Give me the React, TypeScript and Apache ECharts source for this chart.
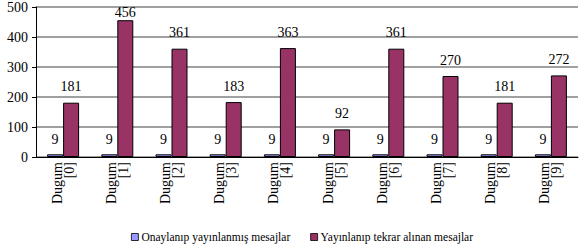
import React, { useEffect, useRef } from "react";
import * as echarts from "echarts";

const categories = ["Dugum\n[0]", "Dugum\n[1]", "Dugum\n[2]", "Dugum\n[3]", "Dugum\n[4]", "Dugum\n[5]", "Dugum\n[6]", "Dugum\n[7]", "Dugum\n[8]", "Dugum\n[9]"];
const seriesNames = ["Onaylanıp yayınlanmış mesajlar", "Yayınlanıp tekrar alınan mesajlar"];
const approved = [9, 9, 9, 9, 9, 9, 9, 9, 9, 9];
const repeated = [181, 456, 361, 183, 363, 92, 361, 270, 181, 272];

const FONT = "Times New Roman";
const Y_MAX = 500;

export default function App() {
  const ref = useRef<HTMLDivElement>(null);
  useEffect(() => {
    const chart = echarts.init(ref.current!, undefined, { renderer: "svg" });
    const repeatedData = repeated.map((v) =>
      v > Y_MAX * 0.88 ? { value: v, label: { distance: 1 } } : v
    );
    chart.setOption({
      animation: false,
      textStyle: { fontFamily: FONT },
      grid: { left: 36, right: 1, top: 7, bottom: 88 },
      legend: {
        top: 226,
        left: 126,
        itemWidth: 7,
        itemHeight: 7,
        itemGap: 20,
        icon: "rect",
        textStyle: { fontFamily: FONT, fontSize: 11.5, color: "#000", padding: [0, 0, 0, -2] },
        itemStyle: { borderColor: "#000", borderWidth: 0.8 },
        data: seriesNames,
      },
      xAxis: {
        type: "category",
        data: categories,
        axisLine: { lineStyle: { color: "#000" } },
        axisTick: { lineStyle: { color: "#000" }, length: 4 },
        axisLabel: {
          rotate: 90,
          fontFamily: FONT,
          fontSize: 14,
          color: "#000",
          lineHeight: 12,
          margin: 5,
        },
      },
      yAxis: {
        type: "value",
        min: 0,
        max: Y_MAX,
        interval: 100,
        axisLine: { show: true, lineStyle: { color: "#000" } },
        axisTick: { show: true, length: 4, lineStyle: { color: "#000" } },
        splitLine: { lineStyle: { color: "#808080", width: 1.5 } },
        axisLabel: { fontFamily: FONT, fontSize: 14, color: "#000", margin: 8 },
      },
      series: [
        {
          name: seriesNames[0],
          type: "bar",
          data: approved,
          barWidth: 16,
          barGap: "0%",
          itemStyle: { color: "#9999FF", borderColor: "#000", borderWidth: 1 },
          label: { show: true, position: "top", distance: 8, fontFamily: FONT, fontSize: 14, color: "#000" },
        },
        {
          name: seriesNames[1],
          type: "bar",
          data: repeatedData,
          barWidth: 16,
          barGap: "0%",
          itemStyle: { color: "#993366", borderColor: "#000", borderWidth: 1 },
          label: { show: true, position: "top", distance: 9, fontFamily: FONT, fontSize: 14, color: "#000" },
        },
      ],
    });
    return () => chart.dispose();
  }, []);
  return <div ref={ref} style={{ width: 579, height: 245, position: "absolute", left: 0, top: 0 }} />;
}
